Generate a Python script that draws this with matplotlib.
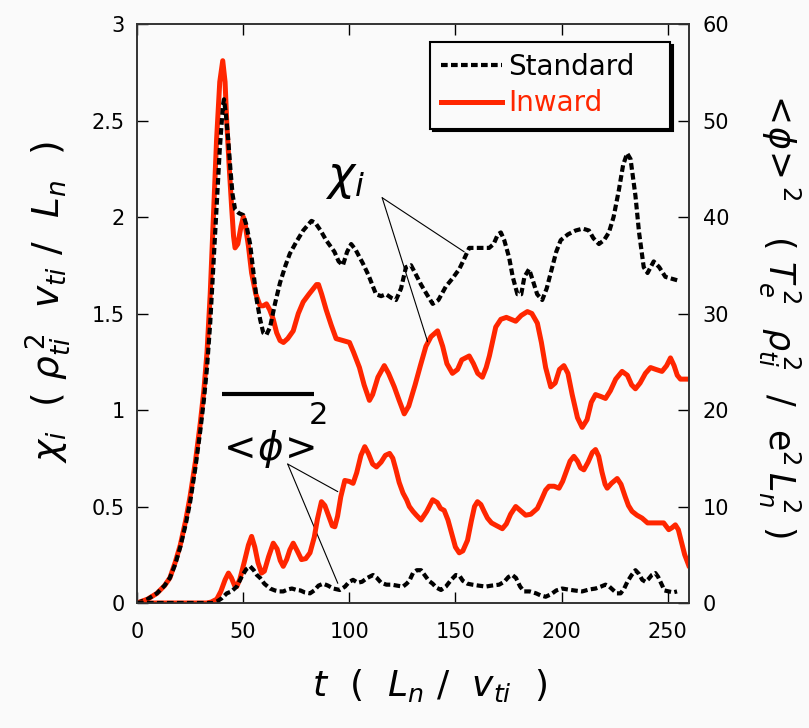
import numpy as np
import matplotlib.pyplot as plt

plt.rcParams['mathtext.fontset'] = 'dejavusans'
plt.rcParams['font.family'] = ['DejaVu Sans']

RED = '#ff2600'

# chi_i for the standard run (left axis)
t_chi_std = [0, 5, 9.4, 13, 15.5, 18, 20.4, 23, 25, 27.5, 29.8, 31.5, 33, 34.5, 36, 37.5, 39, 40.5, 41,
             42, 43, 44, 45, 46.2, 48, 50.1, 51.5, 53.3, 55, 56.4, 58, 59.5, 61, 62.7, 65, 67.4, 70, 72,
             75, 78.3, 82.2, 84, 86.5, 89.1, 93, 95, 97, 99, 100.9, 103, 106.4, 109, 112.6, 115, 117.3,
             120, 122, 124.4, 126.7, 129.1, 131, 133.8, 136.5, 139.3, 142, 145.5, 148.5, 151.8, 154,
             156.5, 160, 163, 165.9, 168, 170, 171.4, 173, 175.3, 177, 179.2, 181, 182.5, 184.7, 186.5,
             188.5, 190.9, 193, 195.6, 197.5, 199.6, 203, 206.6, 210, 212.9, 215, 217.6, 220, 222.3,
             224.5, 227, 229, 230.9, 232.5, 234.8, 236.5, 238.7, 240.5, 243.4, 246, 248.9, 252, 255.2]
chi_std = [0, 0.02, 0.05, 0.09, 0.13, 0.2, 0.29, 0.41, 0.52, 0.7, 0.89, 1.05, 1.22, 1.45, 1.75, 2.05,
           2.35, 2.58, 2.61, 2.52, 2.4, 2.25, 2.12, 2.04, 2.02, 2.01, 1.96, 1.86, 1.7, 1.57, 1.47, 1.40,
           1.39, 1.43, 1.55, 1.66, 1.75, 1.81, 1.87, 1.93, 1.98, 1.97, 1.93, 1.88, 1.82, 1.77, 1.75, 1.82,
           1.86, 1.83, 1.76, 1.7, 1.60, 1.59, 1.60, 1.58, 1.57, 1.63, 1.74, 1.75, 1.71, 1.65, 1.6, 1.55,
           1.57, 1.64, 1.68, 1.73, 1.78, 1.84, 1.84, 1.84, 1.84, 1.86, 1.91, 1.92, 1.88, 1.79, 1.69, 1.60,
           1.60, 1.69, 1.73, 1.67, 1.60, 1.57, 1.63, 1.74, 1.82, 1.88, 1.91, 1.93, 1.94, 1.93, 1.89, 1.86,
           1.88, 1.92, 2.0, 2.14, 2.27, 2.33, 2.3, 2.11, 1.92, 1.74, 1.71, 1.77, 1.74, 1.69, 1.68, 1.67]

# chi_i for the inward run (left axis)
t_chi_in = [0, 5, 9.4, 13, 15.5, 18, 20.4, 23, 25, 27.5, 29.8, 31.5, 33, 34.5, 36, 37.5, 39, 40.4, 41.5,
            42.3, 43.5, 44.6, 45.5, 46.2, 47.5, 49, 50.1, 51, 52.5, 54, 56, 58, 59.5, 61, 62.5, 64.2,
            65.8, 67.4, 69, 71, 73.6, 76, 78.3, 81, 84.6, 85.5, 87, 89.1, 91.5, 93.8, 97, 100.1, 102,
            104.8, 107, 109.5, 111, 113.5, 116.5, 118.5, 121.2, 123.5, 125.9, 128, 131, 133.5, 136.1,
            138.5, 141.6, 144, 146, 148.6, 151, 153, 156.5, 158.5, 160.5, 162.7, 164.5, 166, 169, 171.4,
            174, 178.4, 181, 183.9, 186, 188.6, 190.5, 192.5, 194.9, 197, 199, 201.1, 203, 205, 207.5,
            209.7, 212, 214, 216, 218.5, 220.7, 223, 225.5, 228.5, 231, 233, 234.8, 237, 239.5, 241.9,
            244.5, 247.3, 249.5, 251.3, 253, 254.5, 256, 258, 260]
chi_in = [0, 0.02, 0.05, 0.09, 0.13, 0.21, 0.30, 0.43, 0.55, 0.73, 0.93, 1.1, 1.3, 1.6, 2.0, 2.4, 2.7,
          2.81, 2.7, 2.49, 2.25, 2.05, 1.9, 1.84, 1.86, 1.95, 2.0, 1.96, 1.85, 1.71, 1.6, 1.54, 1.54,
          1.55, 1.52, 1.47, 1.40, 1.36, 1.35, 1.37, 1.41, 1.50, 1.56, 1.60, 1.65, 1.65, 1.60, 1.52,
          1.44, 1.37, 1.36, 1.35, 1.30, 1.22, 1.13, 1.05, 1.08, 1.17, 1.23, 1.19, 1.12, 1.05, 0.98,
          1.02, 1.13, 1.23, 1.33, 1.38, 1.41, 1.33, 1.24, 1.19, 1.21, 1.26, 1.28, 1.24, 1.19, 1.17,
          1.22, 1.28, 1.43, 1.47, 1.48, 1.46, 1.49, 1.51, 1.50, 1.45, 1.35, 1.22, 1.12, 1.14, 1.21,
          1.23, 1.19, 1.08, 0.96, 0.91, 0.95, 1.04, 1.08, 1.07, 1.06, 1.10, 1.16, 1.20, 1.18, 1.13,
          1.11, 1.14, 1.19, 1.22, 1.21, 1.20, 1.23, 1.27, 1.23, 1.18, 1.16, 1.16, 1.16]

# <phi>^2 for the standard run (right axis)
t_phi_std = [0, 36, 38, 40, 42.3, 44.5, 47, 49.5, 51.5, 53.3, 55, 56.5, 58, 60, 62.7, 65, 67, 68.9, 71,
             73, 75.2, 77, 79, 81.5, 83.5, 85.5, 87.7, 90, 92.5, 95.5, 98, 100, 101.8, 104, 106, 108.5,
             111.2, 113, 115, 117.5, 120, 122.5, 125.3, 127, 128.3, 130, 131.8, 133.8, 135.5, 137.5,
             139.3, 141, 143.2, 145.5, 148, 150.2, 152, 153.5, 155.7, 158, 161, 164.3, 167, 170.6, 173,
             175, 176.8, 178.5, 180.5, 182.3, 185, 188, 190, 192.5, 195, 197.5, 200.3, 203, 206, 209.7,
             213, 216, 218.5, 220.7, 222.5, 224.5, 226, 227.8, 229.5, 231, 233, 234.8, 236.5, 238,
             239.5, 241, 242.5, 244.2, 245.5, 247, 248.5, 250.5, 252.5, 254.4]
phi_std = [0, 0, 0.2, 0.5, 1.0, 1.2, 1.7, 2.8, 3.5, 3.8, 3.4, 2.9, 2.6, 2.0, 1.5, 1.3, 1.2, 1.2, 1.4,
           1.5, 1.35, 1.3, 1.1, 1.0, 1.3, 1.8, 2.0, 1.8, 1.5, 1.35, 1.7, 2.2, 2.4, 2.1, 2.2, 2.6, 2.9,
           2.6, 2.1, 1.9, 1.9, 1.8, 1.7, 2.0, 2.3, 3.1, 3.4, 3.4, 2.9, 2.3, 2.0, 1.6, 1.35, 1.7, 2.4,
           2.9, 2.8, 2.3, 2.0, 1.9, 1.8, 1.7, 1.8, 1.9, 2.2, 2.7, 2.9, 2.6, 1.7, 1.2, 1.2, 1.0, 0.8,
           0.65, 0.9, 1.3, 1.5, 1.4, 1.3, 1.2, 1.4, 1.5, 1.7, 1.9, 1.7, 1.3, 1.0, 1.0, 1.5, 2.2, 2.9,
           3.4, 3.0, 2.4, 2.2, 2.5, 2.9, 3.1, 2.7, 2.0, 1.3, 1.2, 1.1, 1.2]

# <phi>^2 for the inward run (right axis)
t_phi_in = [0, 32.9, 35, 37.6, 39.5, 41.5, 43.1, 44.5, 46, 47, 48.5, 50.5, 52.5, 54, 55.5, 57, 58.7, 60,
            62, 64.2, 66, 67.5, 68.9, 70.5, 72, 73.6, 75.5, 77.5, 79.5, 81.5, 83.5, 85, 86.9, 88.5, 90.5,
            92, 93.2, 94.5, 96, 97.9, 100, 101.8, 103.5, 105.5, 107.3, 109, 111, 112.8, 115, 117, 119,
            120.5, 122, 123.5, 125.3, 127, 128.3, 130, 131.6, 133.8, 136.5, 139.3, 141.5, 143, 144.7,
            146.5, 148.5, 150, 151.8, 153.5, 155.7, 157.5, 159, 160.4, 162, 163.5, 165.1, 167, 169.5,
            172.1, 174, 176, 178.4, 180.5, 183.1, 185.5, 188.6, 190.5, 192.5, 194.1, 196.5, 198.8, 200.5,
            202.5, 204, 205.8, 207.5, 209, 210.5, 212.5, 214.5, 216, 217.5, 219, 220.5, 221.5, 223.5,
            226.2, 228, 230, 231.5, 233.2, 235.5, 237.9, 240.5, 243.4, 245.5, 248.1, 250.5, 252, 253.6,
            255, 256.5, 258, 259.9]
phi_in = [0, 0, 0.1, 0.4, 1.2, 2.4, 3.1, 2.6, 1.8, 1.7, 2.5, 4.2, 6.0, 6.9, 5.8, 4.2, 3.1, 3.3, 4.8,
          6.2, 5.6, 4.4, 3.8, 4.5, 5.5, 6.2, 5.4, 4.5, 4.6, 5.2, 6.8, 8.7, 10.5, 10.1, 8.9, 8.0, 7.9,
          9.0, 11.0, 12.7, 12.6, 12.4, 13.5, 15.3, 16.2, 15.5, 14.4, 14.1, 14.6, 15.3, 15.5, 15.0, 13.8,
          12.5, 11.4, 10.7, 10.0, 9.5, 9.1, 8.6, 9.5, 10.7, 10.4, 9.8, 9.6, 8.6, 7.0, 5.8, 5.2, 5.4, 6.5,
          8.5, 10.0, 10.5, 10.2, 9.5, 8.8, 8.3, 8.0, 7.7, 8.2, 9.2, 10.0, 9.6, 9.1, 9.2, 9.8, 10.7, 11.7,
          12.1, 12.1, 11.9, 12.6, 13.8, 14.7, 15.2, 14.7, 14.0, 13.8, 14.6, 15.6, 15.9, 15.2, 13.6, 12.3,
          11.9, 12.4, 12.9, 12.3, 11.0, 10.1, 9.5, 9.1, 8.8, 8.3, 8.3, 8.3, 8.3, 7.6, 7.8, 8.1, 7.6, 6.3,
          5.0, 3.9]

xticks = [0, 50, 100, 150, 200, 250]
chi_ticks = [0, 0.5, 1, 1.5, 2, 2.5, 3]
phi_ticks = [0, 10, 20, 30, 40, 50, 60]

fig = plt.figure(figsize=(8.09, 7.28), dpi=100, facecolor='#fafafa')
ax = fig.add_axes([0.1693, 0.1717, 0.6823, 0.7953])
ax.set_facecolor('#fafafa')

l_in, = ax.plot(t_chi_in, chi_in, color=RED, lw=3.6, label='Inward')
l_std, = ax.plot(t_chi_std, chi_std, color='black', lw=3, dashes=(1.6, 0.8), label='Standard')

ax2 = ax.twinx()
ax2.plot(t_phi_in, phi_in, color=RED, lw=3.6)
ax2.plot(t_phi_std, phi_std, color='black', lw=3, dashes=(1.6, 0.8))

ax.set_xlim(0, 260)
ax.set_ylim(0, 3)
ax2.set_ylim(0, 60)
ax.set_xticks(xticks)
ax.set_yticks(chi_ticks)
ax.set_yticklabels(['0', '0.5', '1', '1.5', '2', '2.5', '3'])
ax2.set_yticks(phi_ticks)

for a in (ax, ax2):
    for s in a.spines.values():
        s.set_color('#333333')
        s.set_linewidth(1.2)
ax.tick_params(axis='x', direction='in', length=8, width=1, top=True, labelsize=15, pad=14)
ax.tick_params(axis='y', direction='in', length=8, width=1, labelsize=15, pad=9)
ax2.tick_params(axis='y', direction='in', length=8, width=1, labelsize=15, pad=10)

ax.set_xlabel(r'$t\ \ (\ \ L_{n}\ /\ \ v_{ti}\ \ )$', fontsize=26)
ax.xaxis.set_label_coords(0.53, -0.11)
ax.xaxis.label.set_va('top')
ax.set_ylabel(r'$\chi_{i}\ \ (\ \rho_{ti}^{\,2}\ \ v_{ti}\ /\ \ L_{n}\ \ )$', fontsize=27)
ax.yaxis.set_label_coords(-0.115, 0.52)
ax2.set_ylabel(r'$<\!\phi\!>^{2}\ \ \ (\ T_{e}^{\,2}\ \ \rho_{ti}^{\,2}\ \ /\ \ \mathrm{e}^{2}\,L_{n}^{\,2}\ )$',
               fontsize=25, rotation=270)
ax2.yaxis.set_label_coords(1.205, 0.5)

# annotations
ax.text(98, 2.2, r'$\chi_{i}$', fontsize=33, ha='center', va='center')
for end in [(154.1, 1.82), (136.9, 1.354)]:
    ax.annotate('', xy=end, xytext=(115.5, 2.1),
                arrowprops=dict(arrowstyle='-', lw=0.8, color='black', shrinkA=0, shrinkB=0))
ax.text(60.6, 0.80, r'$<\!\phi\!>$', fontsize=28, ha='center', va='center')
ax.text(85.5, 0.97, '2', fontsize=22, ha='center', va='center')
ax.plot([40, 83.6], [1.081, 1.081], color='black', lw=3, solid_capstyle='butt')
for end in [(94.6, 0.577), (94.6, 0.102)]:
    ax.annotate('', xy=end, xytext=(71, 0.72),
                arrowprops=dict(arrowstyle='-', lw=0.8, color='black', shrinkA=0, shrinkB=0))

leg = ax2.legend([l_std, l_in], ['Standard', 'Inward'], loc='upper left',
                 bbox_to_anchor=(0.531, 0.822, 0.435, 0.147), mode='expand', borderaxespad=0,
                 fontsize=20, handlelength=2.2, handletextpad=0.2, labelspacing=0.3,
                 fancybox=False, framealpha=1, edgecolor='black',
                 shadow={'color': 'black', 'alpha': 1})
leg.get_frame().set_linewidth(1.5)
leg.get_frame().set_facecolor('#fafafa')
for txt, c in zip(leg.get_texts(), ['black', RED]):
    txt.set_color(c)

fig.savefig('out.png', dpi=100, facecolor=fig.get_facecolor())
